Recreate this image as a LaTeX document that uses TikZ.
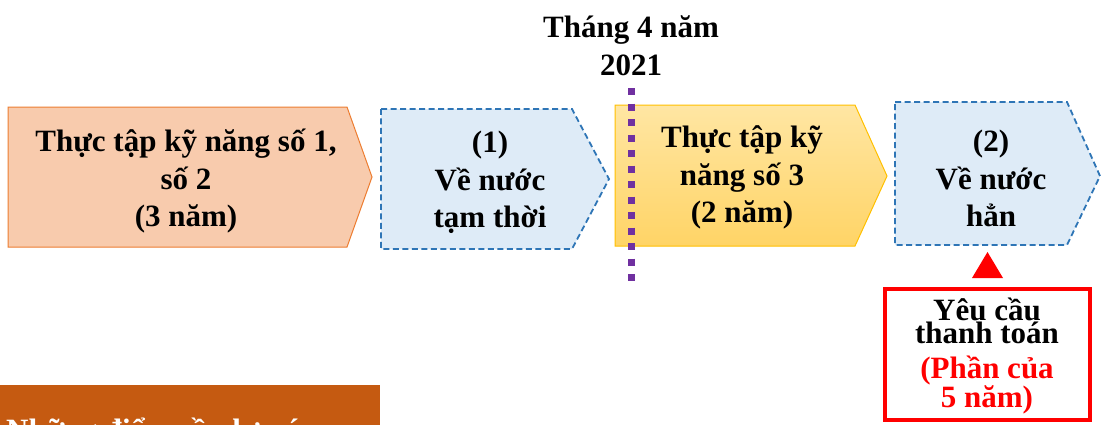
\documentclass[tikz,border=0pt]{standalone}
\usepackage{fontspec}
\setmainfont{Liberation Serif}
\definecolor{orfill}{HTML}{F8CBAD}
\definecolor{ordraw}{HTML}{ED7D31}
\definecolor{blfill}{HTML}{DEEBF7}
\definecolor{bldraw}{HTML}{2E75B6}
\definecolor{yetop}{HTML}{FFE6A3}
\definecolor{yebot}{HTML}{FFD466}
\definecolor{yedraw}{HTML}{FFC000}
\definecolor{barcol}{HTML}{C55A11}
\definecolor{purp}{HTML}{7030A0}
\begin{document}
\begin{tikzpicture}[x=1pt,y=-1pt,
  lbl/.style={align=center,font=\bfseries\fontsize{31}{37.5}\selectfont,inner sep=0pt},
  redlbl/.style={align=center,font=\bfseries\fontsize{31}{23}\selectfont,inner sep=0pt},
  orbox/.style={fill=orfill,draw=ordraw,line width=1pt},
  blbox/.style={fill=blfill,draw=bldraw,line width=1.8pt,dash pattern=on 6pt off 3.5pt},
  yebox/.style={top color=yetop,bottom color=yebot,draw=yedraw,line width=1pt},
]
\useasboundingbox (0,0) rectangle (1101,424);
\fill[white] (0,0) rectangle (1101,424);
% bottom bar (clipped)
\begin{scope}
\clip (0,0) rectangle (1101,424);
\fill[barcol] (0,385) rectangle (380,440);
\node[anchor=base west,inner sep=0pt,text=white,font=\bfseries\fontsize{31}{37}\selectfont] (note) at (6,440) {Những điểm cần lưu ý};
\end{scope}
% pentagons
\draw[orbox] (8,107) -- (347,107) -- (372,177) -- (347,247) -- (8,247) -- cycle;
\draw[blbox] (381,109) -- (572,109) -- (609,179) -- (572,249) -- (381,249) -- cycle;
\draw[yebox] (615,105) -- (855,105) -- (887,176) -- (855,246) -- (615,246) -- cycle;
\draw[blbox] (895,102) -- (1067,102) -- (1100,176) -- (1067,245) -- (895,245) -- cycle;
% labels
\node[lbl] (b1) at (186,181.5) {Thực tập kỹ năng số 1,\\số 2\\(3 năm)};
\node[lbl] (b2) at (490,182.5) {(1)\\Về nước\\tạm thời};
\node[lbl] (b3) at (742,177.5) {Thực tập kỹ\\năng số 3\\(2 năm)};
\node[lbl] (b4) at (991,178.5) {(2)\\Về nước\\hẳn};
\node[lbl] (title) at (631,45.5) {Tháng 4 năm\\2021};
% dotted date line
\coordinate (dtop) at (631,88);
\coordinate (dbot) at (631,285);
\draw[purp,line width=7pt,dash pattern=on 7pt off 8.5pt] (dtop) -- (dbot);
% red box
\node[draw=red,line width=4pt,minimum width=205pt,minimum height=131pt,inner sep=0pt] (req) at (987.5,354.5) {};
\node[redlbl] (reqa) at (987,321) {Yêu cầu\\thanh toán};
\node[redlbl,text=red] (reqb) at (987,385) {(Phần của\\5 năm)};
% triangle pointer
\fill[red] (972,278) -- (987.5,252) -- (1003,278) -- cycle;
\end{tikzpicture}
\end{document}
